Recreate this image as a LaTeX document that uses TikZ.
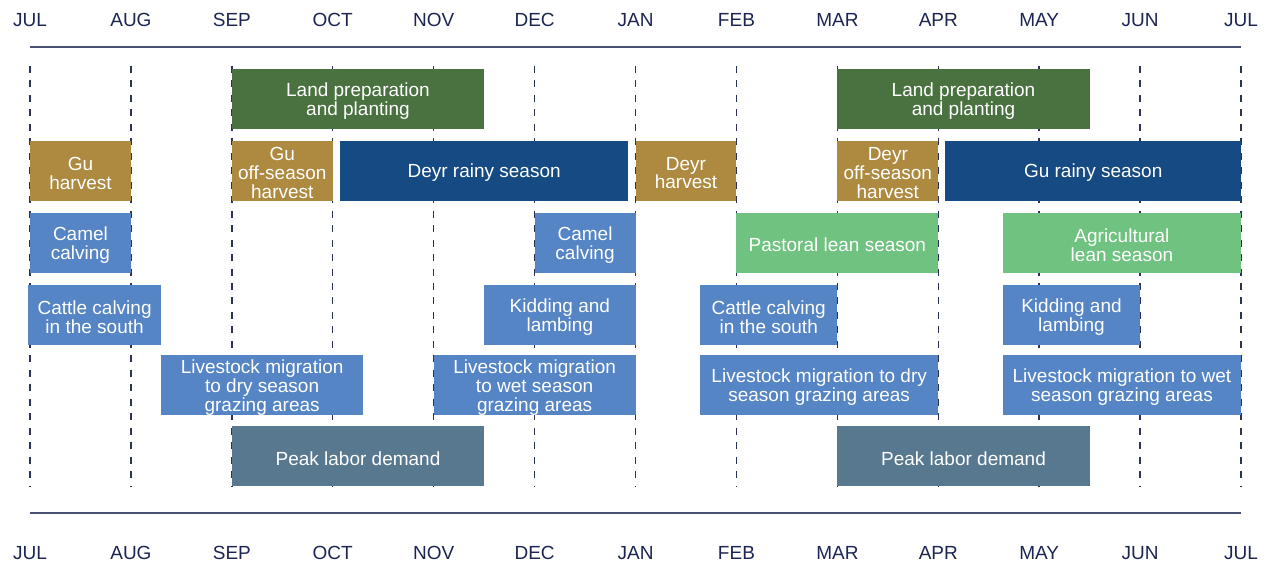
\documentclass[tikz,border=0pt]{standalone}
\usepackage{fontspec}
\setmainfont{Liberation Sans}
\usepackage{tikz}
\definecolor{monthtext}{RGB}{28,36,82}
\definecolor{axisgray}{RGB}{74,80,112}
\definecolor{gridnavy}{RGB}{43,51,88}
\definecolor{landgreen}{RGB}{74,114,64}
\definecolor{harvestgold}{RGB}{173,138,64}
\definecolor{rainyblue}{RGB}{22,74,130}
\definecolor{herdblue}{RGB}{85,133,197}
\definecolor{leangreen}{RGB}{112,194,128}
\definecolor{laborslate}{RGB}{88,120,143}
% name, first month, last month, row, style, text
\newcommand{\activity}[6]{node[#5, minimum width={75.69pt*((#3)-(#2))}] (#1) at ({30+100.92*((#2)+(#3))/2},#4) {}
  node[boxtext] (#1text) at ([yshift=-1.9pt]#1.center) {#6}}

\begin{document}
\begin{tikzpicture}[
      x=0.75pt, y=-0.75pt,
      month/.style={font=\fontsize{14.25}{15}\selectfont, text=monthtext, inner sep=0pt},
      axis/.style={draw=axisgray, line width=0.9pt},
      grid/.style={draw=gridnavy, line width=1.1pt, dash pattern=on 5.25pt off 5.6pt},
      box/.style={rectangle, inner sep=0pt, minimum height=45pt},
      boxtext/.style={inner sep=0pt, align=center, text=white, font=\fontsize{14.25}{14.2}\selectfont},
      land/.style={box, fill=landgreen},
      harvest/.style={box, fill=harvestgold},
      rainy/.style={box, fill=rainyblue},
      herd/.style={box, fill=herdblue},
      lean/.style={box, fill=leangreen},
      labor/.style={box, fill=laborslate}
      ]
      \useasboundingbox (0,0) rectangle (1267,565);
      \foreach \m [count=\i from 0] in {JUL,AUG,SEP,OCT,NOV,DEC,JAN,FEB,MAR,APR,MAY,JUN,JUL}{
        \node[month] (top\i) at ({30+100.92*\i},20) {\m};
        \node[month] (bot\i) at ({30+100.92*\i},553) {\m};
        \draw[grid] ({30+100.92*\i},66) -- ({30+100.92*\i},486);
      }
      \draw[axis] (30,47) -- (1241,47);
      \draw[axis] (30,513) -- (1241,513);
      % planting
      \path \activity{landA}{2}{4.5}{98.5}{land}{Land preparation\\and planting};
      \path \activity{landB}{8}{10.5}{98.5}{land}{Land preparation\\and planting};
      % seasons and harvests
      \path \activity{guharvest}{0}{1}{170.5}{harvest}{Gu\\harvest};
      \path \activity{guoff}{2}{3}{170.5}{harvest}{Gu\\off-season\\harvest};
      \path \activity{deyrrain}{3.07}{5.93}{170.5}{rainy}{Deyr rainy season};
      \path \activity{deyrharvest}{6}{7}{170.5}{harvest}{Deyr\\harvest};
      \path \activity{deyroff}{8}{9}{170.5}{harvest}{Deyr\\off-season\\harvest};
      \path \activity{gurain}{9.07}{12}{170.5}{rainy}{Gu rainy season};
      % calving and lean seasons
      \path \activity{camelA}{0}{1}{242.5}{herd}{Camel\\calving};
      \path \activity{camelB}{5}{6}{242.5}{herd}{Camel\\calving};
      \path \activity{pastoral}{7}{9}{242.5}{lean}{Pastoral lean season};
      \path \activity{agri}{9.64}{12}{242.5}{lean}{Agricultural\\lean season};
      % cattle, kids and lambs
      \path \activity{cattleA}{-0.02}{1.3}{315}{herd}{Cattle calving\\in the south};
      \path \activity{kiddingA}{4.5}{6}{315}{herd}{Kidding and\\lambing};
      \path \activity{cattleB}{6.64}{8}{315}{herd}{Cattle calving\\in the south};
      \path \activity{kiddingB}{9.64}{11}{315}{herd}{Kidding and\\lambing};
      % migration
      \path \activity{dryA}{1.3}{3.3}{385}{herd}{Livestock migration\\to dry season\\grazing areas};
      \path \activity{wetA}{4}{6}{385}{herd}{Livestock migration\\to wet season\\grazing areas};
      \path \activity{dryB}{6.64}{9}{385}{herd}{Livestock migration to dry\\season grazing areas};
      \path \activity{wetB}{9.64}{12}{385}{herd}{Livestock migration to wet\\season grazing areas};
      % labor
      \path \activity{laborA}{2}{4.5}{456}{labor}{Peak labor demand};
      \path \activity{laborB}{8}{10.5}{456}{labor}{Peak labor demand};
\end{tikzpicture}
\end{document}
